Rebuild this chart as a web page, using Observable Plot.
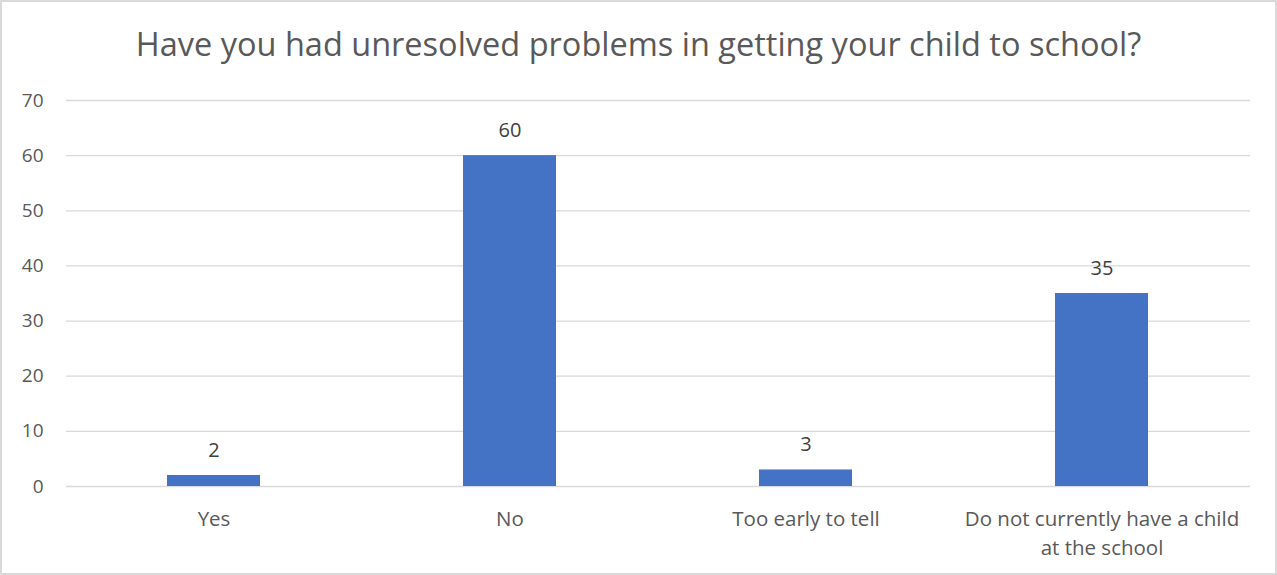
<!DOCTYPE html>
<html>
<head>
<meta charset="utf-8">
<script src="https://cdn.jsdelivr.net/npm/d3@7"></script>
<script src="https://cdn.jsdelivr.net/npm/@observablehq/plot@0.6"></script>
<style>
  html, body { margin: 0; padding: 0; background: #fff; }
  #wrap { position: relative; width: 1277px; height: 575px; overflow: hidden; font-family: "Open Sans", sans-serif; }
  #title { height: 88px; box-sizing: border-box; padding-top: 22px; text-align: center; font-size: 32.5px; line-height: 44px; color: #595959; white-space: nowrap; }
  #frame { position: absolute; left: 0; top: 0; width: 1277px; height: 575px; box-sizing: border-box; border: 2px solid #d9d9d9; pointer-events: none; }
</style>
</head>
<body>
<div id="wrap">
  <div id="title">Have you had unresolved problems in getting your child to school?</div>
  <div id="chart"></div>
  <div id="frame"></div>
</div>
<script>
const categories = ["Yes", "No", "Too early to tell", "Do not currently have a child at the school"];
const tickLabels = ["Yes", "No", "Too early to tell", "Do not currently have a child\nat the school"];
const values = [2, 60, 3, 35];
const yTicks = [0, 10, 20, 30, 40, 50, 60, 70];

const data = categories.map((c, i) => ({category: c, value: values[i]}));
const labelMap = new Map(categories.map((c, i) => [c, tickLabels[i]]));

const chart = Plot.plot({
  width: 1277,
  height: 487,
  marginTop: 12,
  marginBottom: 89,
  marginLeft: 66,
  marginRight: 27,
  style: {fontFamily: "'Open Sans', sans-serif", fontSize: "20px", color: "#595959", background: "transparent"},
  x: {domain: categories, paddingInner: 0.685, paddingOuter: 0.3425, label: null},
  y: {domain: [0, 70], label: null},
  marks: [
    Plot.gridY(yTicks, {stroke: "#d9d9d9", strokeOpacity: 1, strokeWidth: 1.3}),
    Plot.axisY(yTicks, {tickSize: 0, tickPadding: 23, fontSize: 19, fill: "#595959", label: null}),
    Plot.axisX({tickSize: 0, tickPadding: 20, fontSize: 20.5, fill: "#595959", lineHeight: 1.37, tickFormat: d => labelMap.get(d), label: null}),
    Plot.barY(data, {x: "category", y: "value", fill: "#4472C4"}),
    Plot.text(data, {x: "category", y: "value", text: d => String(d.value), dy: -25, fontSize: 20, fill: "#404040"})
  ]
});
document.getElementById("chart").appendChild(chart);
</script>
</body>
</html>
